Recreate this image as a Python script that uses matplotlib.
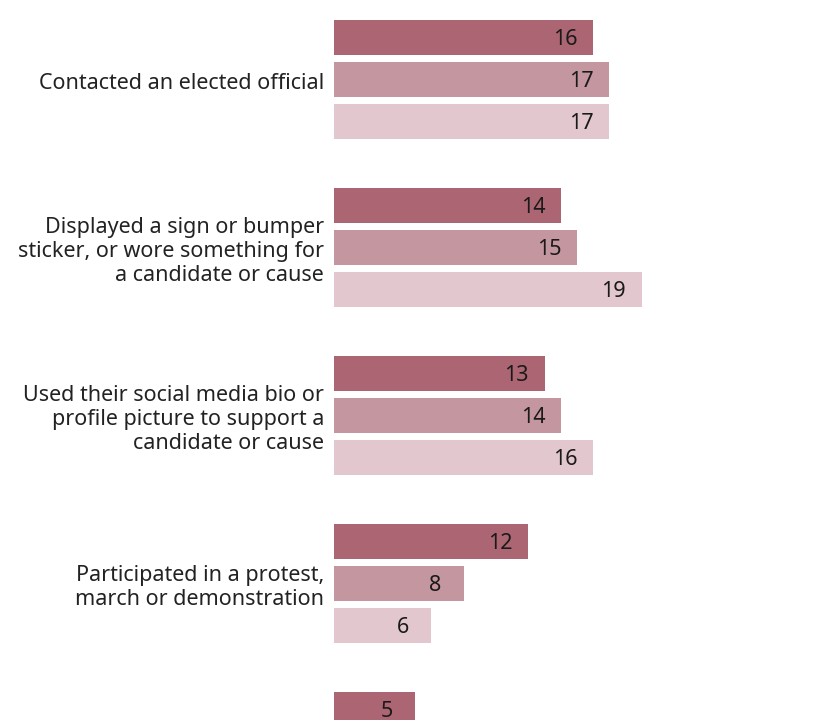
import matplotlib
matplotlib.use("Agg")
import matplotlib.pyplot as plt
import numpy as np

categories = [
    "Contacted an elected official",
    "Displayed a sign or bumper\nsticker, or wore something for\na candidate or cause",
    "Used their social media bio or\nprofile picture to support a\ncandidate or cause",
    "Participated in a protest,\nmarch or demonstration",
    "",
]
series_a = [16, 14, 13, 12, 5]
series_b = [17, 15, 14, 8, None]
series_c = [17, 19, 16, 6, None]

colors = ["#ac6572", "#c4969f", "#e3c7cf"]

plt.rcParams['font.family'] = ['Noto Sans', 'DejaVu Sans']

fig = plt.figure(figsize=(8.4, 7.2), dpi=100)
ax = fig.add_axes([0, 0, 1, 1])

px_per_unit = 16.2
ax.set_xlim(-334 / px_per_unit, (840 - 334) / px_per_unit)
top = -37.5 / 42
ax.set_ylim(top + 720 / 42, top)

bar_h = 35 / 42
for gi, cat in enumerate(categories):
    base = gi * 4
    for j, (vals, col) in enumerate(zip([series_a, series_b, series_c], colors)):
        v = vals[gi]
        if v is None:
            continue
        y = base + j
        ax.barh(y, v, height=bar_h, color=col, left=0)
        ax.text(v - 28 / px_per_unit, y + 2 / 42, str(v), ha="center", va="center",
                fontsize=15.5, color="#1a1a1a")
    if cat:
        ax.text(-10 / px_per_unit, base + 1 + 4 / 42, cat, ha="right", va="center",
                fontsize=15.5, color="#222222", linespacing=1.18)

ax.axis("off")
fig.savefig("out.png", dpi=100)
